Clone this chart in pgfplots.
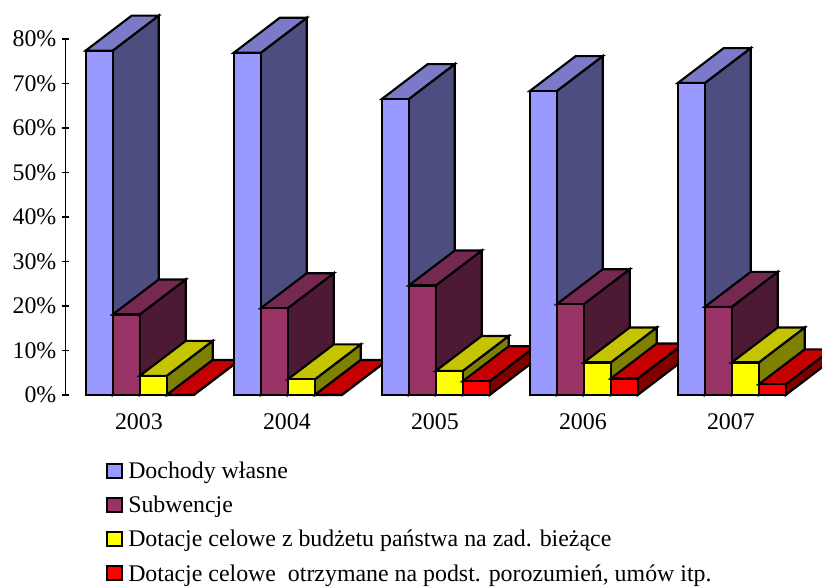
\documentclass[border=0pt]{standalone}
\usepackage{pgfplots}
\pgfplotsset{compat=1.18}
\usepackage{fontspec}
\setmainfont{Liberation Serif}
\definecolor{bF}{HTML}{9999FF}\definecolor{bT}{HTML}{7A7AC8}\definecolor{bS}{HTML}{4D4D80}
\definecolor{pF}{HTML}{993366}\definecolor{pT}{HTML}{752850}\definecolor{pS}{HTML}{4D1A33}
\definecolor{yF}{HTML}{FFFF00}\definecolor{yT}{HTML}{C4C400}\definecolor{yS}{HTML}{808000}
\definecolor{rF}{HTML}{FF0000}\definecolor{rT}{HTML}{C40000}\definecolor{rS}{HTML}{800000}
% #1 year position, #2 series index (0-3), #3 value in %, #4 colour prefix
\newcommand{\barthreed}[4]{%
  \pgfmathsetmacro\xa{#1+(#2-2)*0.1824}%
  \pgfmathsetmacro\xb{\xa+0.1824}%
  \pgfmathsetmacro\xc{\xb+0.3108}%
  \pgfmathsetmacro\xd{\xa+0.3108}%
  \pgfmathsetmacro\yt{#3+7.865}%
  \addplot[draw=black,line width=1.6pt,line join=miter,fill=#4S,forget plot,mark=none] coordinates {(\xb,0) (\xc,7.865) (\xc,\yt) (\xb,#3)} --cycle;
  \addplot[draw=black,line width=1.6pt,line join=miter,fill=#4T,forget plot,mark=none] coordinates {(\xa,#3) (\xb,#3) (\xc,\yt) (\xd,\yt)} --cycle;
  \addplot[draw=black,line width=1.6pt,line join=miter,fill=#4F,forget plot,mark=none] coordinates {(\xa,0) (\xb,0) (\xb,#3) (\xa,#3)} --cycle;
}
\pgfplotsset{swatch/.style={legend image code/.code={\draw[draw=black,line width=1.6pt,fill=#1] (0pt,0.6pt) rectangle (11pt,11.2pt);\path (15.5pt,0pt);}}}
\begin{document}
\begin{tikzpicture}
\path[use as bounding box,clip] (0,0) rectangle (616.5pt,440.25pt);
\begin{axis}[
  at={(49.3pt,144pt)},anchor=south west,scale only axis,
  width=555pt,height=267pt,
  xmin=-0.5,xmax=4.5,ymin=0,ymax=80,
  clip=false,
  axis y line=left,axis x line=bottom,
  x axis line style={draw=none,-},y axis line style={-,line width=0.8pt},
  xtick={0,1,2,3,4},xticklabels={2003,2004,2005,2006,2007},
  ytick={0,10,...,80},
  yticklabel={\pgfmathprintnumber{\tick}\%},
  /pgf/number format/assume math mode=true,
  tick style={black,line width=0.8pt},
  major tick length=5pt,
  x tick style={draw=none},
  tick label style={font=\fontsize{17.9}{20}\selectfont},
  xticklabel style={yshift=-8pt,xshift=-0.6pt},
  yticklabel style={xshift=-1.0pt},
  legend cell align=left,
  legend style={at={(axis cs:-0.228,-15.0)},anchor=north west,draw=none,fill=none,
    font=\fontsize{17.9}{20}\selectfont,row sep=11.7pt,inner sep=0pt,
    nodes={inner sep=0pt,anchor=base west}},
]
\addlegendimage{swatch=bF}\addlegendentry{Dochody własne}
\addlegendimage{swatch=pF}\addlegendentry{Subwencje}
\addlegendimage{swatch=yF}\addlegendentry{Dotacje celowe z budżetu państwa na zad. bieżące}
\addlegendimage{swatch=rF}\addlegendentry{Dotacje celowe\ \ otrzymane na podst. porozumień, umów itp.}
\barthreed{0}{0}{77.4}{b}\barthreed{0}{1}{18.1}{p}\barthreed{0}{2}{4.3}{y}\barthreed{0}{3}{0.0}{r}
\barthreed{1}{0}{76.9}{b}\barthreed{1}{1}{19.5}{p}\barthreed{1}{2}{3.5}{y}\barthreed{1}{3}{0.0}{r}
\barthreed{2}{0}{66.5}{b}\barthreed{2}{1}{24.6}{p}\barthreed{2}{2}{5.4}{y}\barthreed{2}{3}{3.1}{r}
\barthreed{3}{0}{68.3}{b}\barthreed{3}{1}{20.4}{p}\barthreed{3}{2}{7.3}{y}\barthreed{3}{3}{3.7}{r}
\barthreed{4}{0}{70.1}{b}\barthreed{4}{1}{19.8}{p}\barthreed{4}{2}{7.3}{y}\barthreed{4}{3}{2.4}{r}
\end{axis}
\end{tikzpicture}
\end{document}
